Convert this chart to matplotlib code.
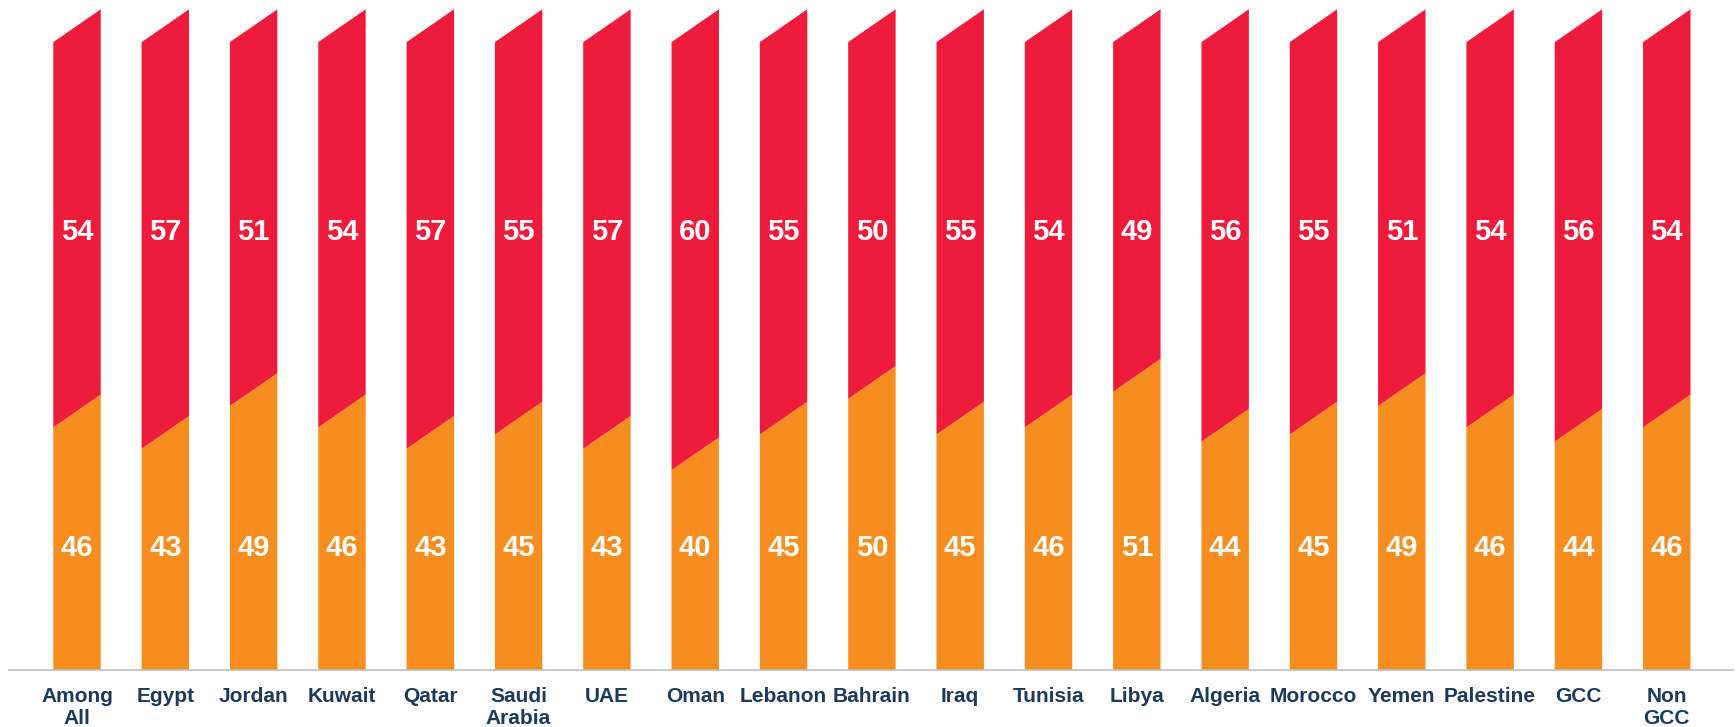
import matplotlib
matplotlib.use("Agg")
import matplotlib.pyplot as plt

categories = ["Among\nAll", "Egypt", "Jordan", "Kuwait", "Qatar", "Saudi\nArabia", "UAE",
              "Oman", "Lebanon", "Bahrain", "Iraq", "Tunisia", "Libya", "Algeria",
              "Morocco", "Yemen", "Palestine", "GCC", "Non\nGCC"]
orange_vals = [46, 43, 49, 46, 43, 45, 43, 40, 45, 50, 45, 46, 51, 44, 45, 49, 46, 44, 46]
red_vals = [54, 57, 51, 54, 57, 55, 57, 60, 55, 50, 55, 54, 49, 56, 55, 51, 54, 56, 54]

ORANGE = "#F68E1F"
RED = "#EE1C3A"
NAVY = "#1B3A5C"

floor = 12.0      # axis minimum (3D-style chart floor)
slant = 4.6       # rise of the right edge of each segment top
bar_w = 0.537
label_y_orange = 29.1
label_y_red = 73.4

fig = plt.figure(figsize=(17.36, 7.27), dpi=100)
ax = fig.add_axes([9 / 1736, 57 / 727, 1724 / 1736, (670 - 9.3) / 727])
ax.set_xlim(-0.77, 18.75)
ax.set_ylim(floor, 100 + slant)

for i, (o, r) in enumerate(zip(orange_vals, red_vals)):
    l, rr = i - bar_w / 2, i + bar_w / 2
    ax.fill([l, rr, rr, l], [floor, floor, o + slant, o], color=ORANGE, lw=0)
    ax.fill([l, rr, rr, l], [o, o + slant, o + r + slant, o + r], color=RED, lw=0)
    ax.text(i, label_y_orange, f"{o}", ha="center", va="center", color="white",
            fontsize=21, fontweight="bold", family="Liberation Sans")
    ax.text(i, label_y_red, f"{r}", ha="center", va="center", color="white",
            fontsize=21, fontweight="bold", family="Liberation Sans")

for s in ["top", "left", "right"]:
    ax.spines[s].set_visible(False)
ax.spines["bottom"].set_color("#BFBFBF")
ax.spines["bottom"].set_linewidth(1.2)
ax.set_yticks([])
ax.set_xticks(range(len(categories)))
ax.set_xticklabels(categories, fontsize=15, fontweight="bold", color=NAVY,
                   family="Liberation Sans", linespacing=1.25)
ax.tick_params(axis="x", length=0, pad=12)

fig.savefig("out.png", dpi=100)
